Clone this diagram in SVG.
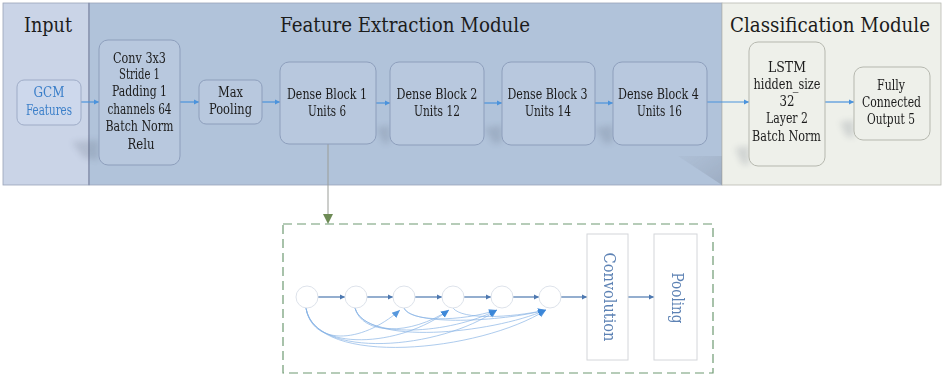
<svg xmlns="http://www.w3.org/2000/svg" width="942" height="377" viewBox="0 0 942 377">
<defs>
<style>
.t{fill:#1c1c1c;text-anchor:middle;font-family:'DejaVu Serif',serif}
.title{font-size:21px}
.lbl{font-size:14.5px}
.fe{fill:#b8c8de;stroke:#8d9ebb;stroke-width:1}
.cl{fill:#eef0ea;stroke:#b5b7ae;stroke-width:1}
.arr{stroke:#4b93dc;stroke-width:1.2;fill:none;marker-end:url(#ah)}
.sk{stroke:#86b2e4;stroke-width:0.8;fill:none;opacity:0.85;marker-end:url(#ah2)}
.ca{stroke:#4d78b0;stroke-width:1.2;fill:none;marker-end:url(#ah3)}
.circ{fill:#ffffff;stroke:#dde2ea;stroke-width:1}
.rb{fill:#ffffff;stroke:#d4d6da;stroke-width:1}
.rt{font-family:'DejaVu Serif',serif;font-size:16px;fill:#5d82b4;text-anchor:middle}
.sh{fill:#4a5366;filter:url(#blur)}
</style>
<filter id="blur" x="-50%" y="-50%" width="200%" height="200%"><feGaussianBlur stdDeviation="3"/></filter>
<linearGradient id="tri" x1="0" y1="0" x2="1" y2="1"><stop offset="0" stop-color="#8a93a3" stop-opacity="0.2"/><stop offset="1" stop-color="#5d6677" stop-opacity="0.7"/></linearGradient>
<marker id="ah" markerWidth="6" markerHeight="6" refX="5" refY="3" orient="auto" markerUnits="userSpaceOnUse"><path d="M0,0.5 L5,3 L0,5.5 Z" fill="#4b93dc"/></marker>
<marker id="ah2" markerWidth="9" markerHeight="9" refX="8" refY="4.5" orient="auto" markerUnits="userSpaceOnUse"><path d="M0,1 L8,4.5 L0,8 Z" fill="#3a86d8"/></marker>
<marker id="ah3" markerWidth="6" markerHeight="6" refX="5" refY="3" orient="auto" markerUnits="userSpaceOnUse"><path d="M0,0.5 L5,3 L0,5.5 Z" fill="#4d78b0"/></marker>
</defs>

<g id="panels">
<rect x="3" y="3" width="86" height="182" fill="#cad4e7" stroke="#9aa3b8" stroke-width="0.8"/>
<rect x="89" y="3" width="633" height="182" fill="#b1c3da" stroke="#9aa3b8" stroke-width="0.8"/>
<rect x="722" y="3" width="219" height="182" fill="#eef0ea" stroke="#b8bab2" stroke-width="0.8"/>
<line x1="89" y1="3" x2="89" y2="185" stroke="#7d86a6" stroke-width="1"/>
<text class="t title" x="48" y="32" textLength="48" lengthAdjust="spacingAndGlyphs">Input</text>
<text class="t title" x="405" y="32" textLength="250" lengthAdjust="spacingAndGlyphs">Feature Extraction Module</text>
<text class="t title" x="830" y="32" textLength="200" lengthAdjust="spacingAndGlyphs">Classification Module</text>
</g>

<g id="shadows" opacity="0.35">
<path d="M678,156 L722,156 L722,185 Z" fill="url(#tri)"/>
<path class="sh" d="M72,142 L99,140 L99,160 L84,158 Z" opacity="0.5"/>
<path class="sh" d="M376,128 L390,125 L390,142 L384,144 Z" opacity="0.5"/>
<path class="sh" d="M484,128 L502,125 L502,142 L494,144 Z" opacity="0.5"/>
<path class="sh" d="M595,128 L613,125 L613,142 L605,144 Z" opacity="0.5"/>
<path class="sh" d="M735,148 L749,146 L749,165 L742,164 Z" opacity="0.5"/>
<path class="sh" d="M840,122 L854,120 L854,138 L846,136 Z" opacity="0.5"/>
</g>

<g id="connectors">
<line class="arr" x1="81" y1="102" x2="99" y2="102"/>
<line class="arr" x1="180" y1="102" x2="199" y2="102"/>
<line class="arr" x1="262" y1="102" x2="280" y2="102"/>
<line class="arr" x1="376" y1="103" x2="390" y2="103"/>
<line class="arr" x1="484" y1="103" x2="502" y2="103"/>
<line class="arr" x1="595" y1="103" x2="613" y2="103"/>
<line class="arr" x1="707" y1="102" x2="749" y2="102"/>
<line class="arr" x1="825" y1="102" x2="854" y2="102"/>
<line x1="328" y1="144" x2="328" y2="215" stroke="#9a9d98" stroke-width="1"/>
<path d="M323,214 L333,214 L328,224 Z" fill="#6d8a55"/>
</g>

<g id="gcm">
<rect x="17" y="80" width="64" height="45" rx="7" fill="#cdd8ec" stroke="#9eabc6"/>
<text class="t lbl" x="49" y="97" textLength="31" lengthAdjust="spacingAndGlyphs" style="fill:#3b7fc9">GCM</text>
<text class="t lbl" x="49" y="115" textLength="46" lengthAdjust="spacingAndGlyphs" style="fill:#3b7fc9">Features</text>
</g>
<g id="conv">
<rect class="fe" x="99" y="40" width="81" height="125" rx="9"/>
<text class="t lbl" x="139.5" y="63" textLength="53" lengthAdjust="spacingAndGlyphs">Conv 3x3</text>
<text class="t lbl" x="139.5" y="79" textLength="41" lengthAdjust="spacingAndGlyphs">Stride 1</text>
<text class="t lbl" x="139.5" y="96" textLength="55" lengthAdjust="spacingAndGlyphs">Padding 1</text>
<text class="t lbl" x="139.5" y="114" textLength="64" lengthAdjust="spacingAndGlyphs">channels 64</text>
<text class="t lbl" x="139.5" y="131" textLength="68" lengthAdjust="spacingAndGlyphs">Batch Norm</text>
<text class="t lbl" x="141" y="149" textLength="27" lengthAdjust="spacingAndGlyphs">Relu</text>
</g>
<g id="maxpool">
<rect class="fe" x="199" y="80" width="63" height="44" rx="7"/>
<text class="t lbl" x="230.5" y="97" textLength="25" lengthAdjust="spacingAndGlyphs">Max</text>
<text class="t lbl" x="230.5" y="114" textLength="43" lengthAdjust="spacingAndGlyphs">Pooling</text>
</g>
<g id="db1">
<rect class="fe" x="280" y="62" width="96" height="82" rx="9"/>
<text class="t lbl" x="327" y="99" textLength="80" lengthAdjust="spacingAndGlyphs">Dense Block 1</text>
<text class="t lbl" x="327" y="116" textLength="38" lengthAdjust="spacingAndGlyphs">Units 6</text>
</g>
<g id="db2">
<rect class="fe" x="390" y="62" width="94" height="83" rx="9"/>
<text class="t lbl" x="437" y="99" textLength="81" lengthAdjust="spacingAndGlyphs">Dense Block 2</text>
<text class="t lbl" x="437" y="116" textLength="46" lengthAdjust="spacingAndGlyphs">Units 12</text>
</g>
<g id="db3">
<rect class="fe" x="502" y="62" width="93" height="83" rx="9"/>
<text class="t lbl" x="547.5" y="99" textLength="80" lengthAdjust="spacingAndGlyphs">Dense Block 3</text>
<text class="t lbl" x="548" y="116" textLength="46" lengthAdjust="spacingAndGlyphs">Units 14</text>
</g>
<g id="db4">
<rect class="fe" x="613" y="62" width="94" height="83" rx="9"/>
<text class="t lbl" x="658.5" y="99" textLength="81" lengthAdjust="spacingAndGlyphs">Dense Block 4</text>
<text class="t lbl" x="659.5" y="116" textLength="45" lengthAdjust="spacingAndGlyphs">Units 16</text>
</g>
<g id="lstm">
<rect class="cl" x="749" y="42" width="76" height="124" rx="9"/>
<text class="t lbl" x="787" y="72" textLength="38" lengthAdjust="spacingAndGlyphs">LSTM</text>
<text class="t lbl" x="787" y="89" textLength="67" lengthAdjust="spacingAndGlyphs">hidden_size</text>
<text class="t lbl" x="787" y="106" textLength="15" lengthAdjust="spacingAndGlyphs">32</text>
<text class="t lbl" x="787" y="123" textLength="42" lengthAdjust="spacingAndGlyphs">Layer 2</text>
<text class="t lbl" x="786.5" y="141" textLength="69" lengthAdjust="spacingAndGlyphs">Batch Norm</text>
</g>
<g id="fc">
<rect class="cl" x="854" y="67" width="76" height="73" rx="9"/>
<text class="t lbl" x="891" y="90" textLength="28" lengthAdjust="spacingAndGlyphs">Fully</text>
<text class="t lbl" x="891.5" y="107" textLength="59" lengthAdjust="spacingAndGlyphs">Connected</text>
<text class="t lbl" x="891" y="124" textLength="48" lengthAdjust="spacingAndGlyphs">Output 5</text>
</g>

<g id="denseblock-detail">
<rect x="283" y="224" width="430" height="149" fill="none" stroke="#6e9a72" stroke-width="1.2" stroke-dasharray="9,5"/>
<g id="skip-connectors">
<path class="sk" d="M306,308 C312,345 360,345 400,310"/>
<path class="sk" d="M306,308 C312,352 400,348 449,310"/>
<path class="sk" d="M306,308 C314,360 440,350 497,310"/>
<path class="sk" d="M306,308 C316,368 480,352 546,310"/>
<path class="sk" d="M355,308 C362,335 410,336 449,310"/>
<path class="sk" d="M355,308 C364,340 450,334 497,310"/>
<path class="sk" d="M355,308 C366,346 490,334 546,310"/>
<path class="sk" d="M404,308 C410,322 460,322 497,310"/>
<path class="sk" d="M404,308 C412,326 500,322 546,310"/>
<path class="sk" d="M453,308 C462,320 510,318 546,310"/>
</g>
<g id="chain-connectors">
<line class="ca" x1="318" y1="297" x2="345" y2="297"/>
<line class="ca" x1="367" y1="297" x2="393" y2="297"/>
<line class="ca" x1="415" y1="297" x2="442" y2="297"/>
<line class="ca" x1="464" y1="297" x2="491" y2="297"/>
<line class="ca" x1="513" y1="297" x2="539" y2="297"/>
<line class="ca" x1="561" y1="297" x2="587" y2="297"/>
<line class="ca" x1="628" y1="297" x2="654" y2="297"/>
</g>
<g id="c1"><circle class="circ" cx="307" cy="297" r="11"/></g>
<g id="c2"><circle class="circ" cx="356" cy="297" r="11"/></g>
<g id="c3"><circle class="circ" cx="404" cy="297" r="11"/></g>
<g id="c4"><circle class="circ" cx="453" cy="297" r="11"/></g>
<g id="c5"><circle class="circ" cx="502" cy="297" r="11"/></g>
<g id="c6"><circle class="circ" cx="550" cy="297" r="11"/></g>
<g id="convolution">
<rect class="rb" x="587" y="234" width="41" height="126"/>
<text class="rt" transform="translate(609,297) rotate(90)" y="5" textLength="89" lengthAdjust="spacingAndGlyphs">Convolution</text>
</g>
<g id="pooling">
<rect class="rb" x="654" y="234" width="43" height="126"/>
<text class="rt" transform="translate(677,298) rotate(90)" y="5" textLength="51" lengthAdjust="spacingAndGlyphs">Pooling</text>
</g>
</g>
</svg>
